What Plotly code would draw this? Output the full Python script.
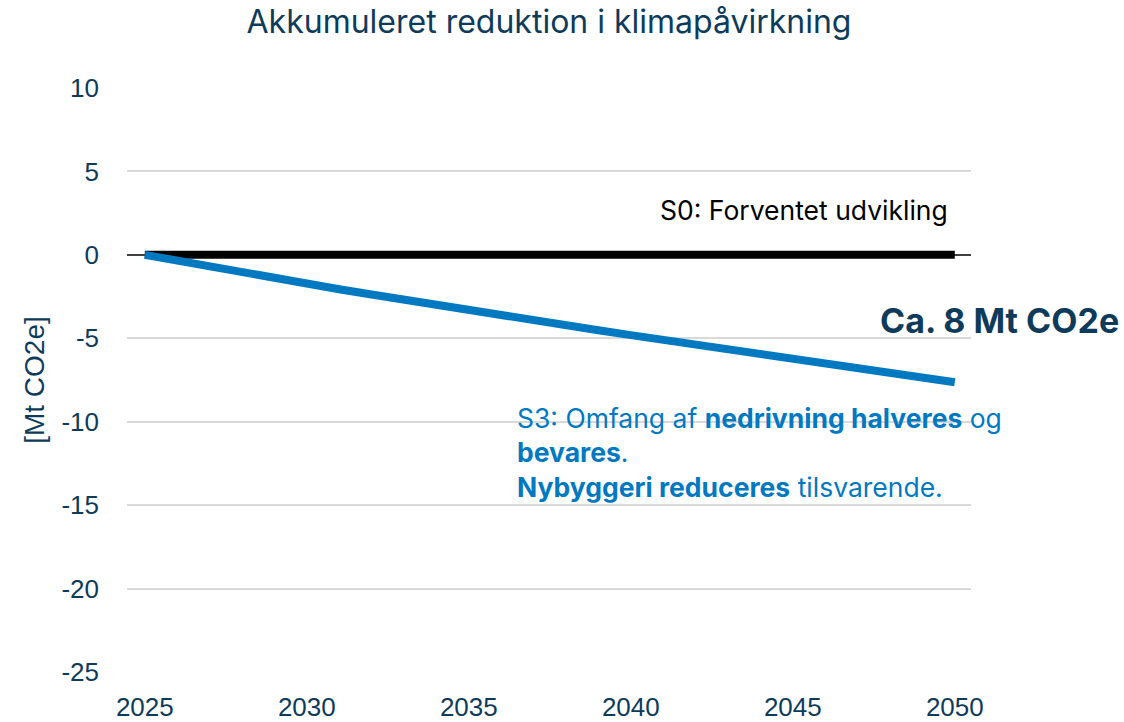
import plotly.graph_objects as go

years = list(range(2025, 2051))
s0_values = [0.0] * len(years)
s3_values = [0.0, -0.36, -0.71, -1.06, -1.40, -1.74, -2.06, -2.38, -2.70, -3.01,
             -3.32, -3.62, -3.92, -4.22, -4.52, -4.81, -5.10, -5.39, -5.68, -5.97,
             -6.26, -6.54, -6.82, -7.09, -7.36, -7.63]
y_ticks = [10, 5, 0, -5, -10, -15, -20, -25]
y_tick_labels = ["10", "5", "0", "-5", "-10", "-15", "-20", "-25"]
x_ticks = [2025, 2030, 2035, 2040, 2045, 2050]

NAVY = "#0E3B5A"
BLUE = "#0079C1"
FONT = "Inter"
NUMFONT = "Liberation Sans"

fig = go.Figure()
fig.add_trace(go.Scatter(x=years, y=s0_values, mode="lines",
                         line=dict(color="black", width=8), name="S0",
                         showlegend=False))
fig.add_trace(go.Scatter(x=years, y=s3_values, mode="lines",
                         line=dict(color=BLUE, width=8), name="S3",
                         showlegend=False))

fig.update_layout(
    width=1124, height=722,
    margin=dict(l=127, r=153, t=88, b=50),
    paper_bgcolor="white", plot_bgcolor="white",
    font=dict(family=FONT, color=NAVY),
    title=dict(text="Akkumuleret reduktion i klimapåvirkning",
               x=(127 + 971) / 2 / 1124, xanchor="center",
               y=1 - 22 / 722, yanchor="middle",
               font=dict(size=32, color=NAVY, family=FONT)),
    xaxis=dict(range=[2024.45, 2050.5], tickvals=x_ticks, showgrid=False,
               zeroline=False, showline=False, automargin=False,
               tickfont=dict(size=26, color=NAVY, family=NUMFONT),
               ticklabelstandoff=17),
    yaxis=dict(range=[-25, 10], tickvals=y_ticks, ticktext=y_tick_labels,
               showgrid=True, gridcolor="#D9D9D9", gridwidth=2,
               zeroline=True, zerolinecolor="#404040", zerolinewidth=2,
               showline=False, automargin=False,
               tickfont=dict(size=26, color=NAVY, family=NUMFONT),
               ticklabelstandoff=27,
               title=dict(text="[Mt CO2e]",
                          font=dict(size=28, color=NAVY, family=NUMFONT),
                          standoff=8)),
)

fig.add_annotation(xref="paper", yref="paper",
                   x=(950 - 127) / 844, y=(672 - 210) / 584,
                   xanchor="right", yanchor="middle", showarrow=False,
                   text="S0: Forventet udvikling",
                   font=dict(size=26.5, color="black", family=FONT))
fig.add_annotation(xref="paper", yref="paper",
                   x=(878 - 127) / 844, y=(672 - 320) / 584,
                   xanchor="left", yanchor="middle", showarrow=False,
                   text="<b>Ca. 8 Mt CO2e</b>",
                   font=dict(size=34, color=NAVY, family=FONT))
fig.add_annotation(xref="paper", yref="paper",
                   x=(515 - 127) / 844, y=(672 - 452) / 584,
                   xanchor="left", yanchor="middle", align="left", showarrow=False,
                   text="S3: Omfang af <b>nedrivning halveres</b> og<br>"
                        "<b>bevares</b>.<br>"
                        "<b>Nybyggeri reduceres</b> tilsvarende.",
                   font=dict(size=26.5, color=BLUE, family=FONT))

fig.write_html("out.html")
